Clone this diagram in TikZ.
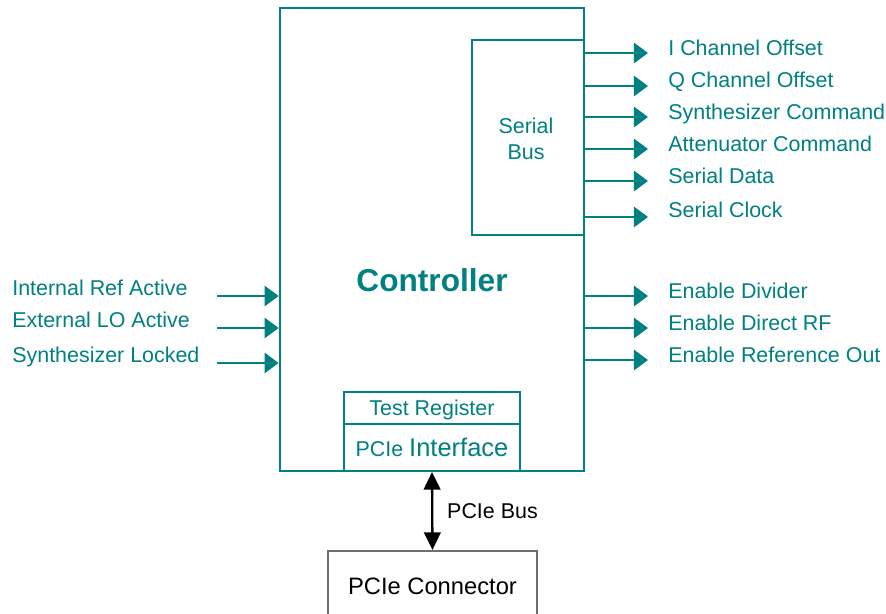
\documentclass[tikz,border=0pt]{standalone}
\usepackage{fontspec}
\setmainfont{Liberation Sans}
\usetikzlibrary{arrows.meta}
\definecolor{ctrlteal}{RGB}{0,128,128}
\definecolor{conngray}{RGB}{110,110,110}

\begin{document}
\begin{tikzpicture}[x=0.02cm,y=-0.02cm,
	blk/.style={draw=ctrlteal,line width=1.2pt,inner sep=0pt},
	sig/.style={draw=ctrlteal,line width=1.3pt,-{Triangle[length=8pt,width=11.5pt]}},
	lbl/.style={text=ctrlteal,font=\fontsize{12.2}{14}\selectfont,anchor=base west,inner sep=0pt}]
	\useasboundingbox (0,0) rectangle (886,613);
	\clip (0,0) rectangle (886,613);
	
	% blocks
	\node[blk,line width=1.6pt,minimum width=6.08cm,minimum height=9.26cm] (ctrl) at (432,239.5) {};
	\node[text=ctrlteal,font=\bfseries\fontsize{18}{21}\selectfont] (ctrltxt) at (432,280) {Controller};
	\node[blk,minimum width=2.24cm,minimum height=3.9cm] (sbus) at (528,137.5) {};
	\node[text=ctrlteal,align=center,font=\fontsize{12.2}{14.7}\selectfont] (sbustxt) at (526,139) {Serial\\Bus};
	\node[blk,minimum width=3.52cm,minimum height=.64cm,text=ctrlteal,text depth=0pt,font=\fontsize{12.2}{14}\selectfont] (treg) at (432,408) {Test Register};
	\node[blk,minimum width=3.52cm,minimum height=.94cm,text=ctrlteal,text depth=0pt] (pcie) at (432,447.5) {\fontsize{12.2}{14}\selectfont PCIe \fontsize{14.5}{17}\selectfont Interface};
	\node[draw=conngray,line width=1.3pt,inner sep=0pt,minimum width=4.18cm,minimum height=1.4cm,font=\fontsize{13.5}{16}\selectfont] (conn) at (432.5,586) {PCIe Connector};
	
	% bus
	\draw[line width=1.3pt,{Triangle[length=10pt,width=9.5pt]}-{Triangle[length=10pt,width=9.5pt]}] (pcie.south) -- (conn.north);
	\node[anchor=west,font=\fontsize{12.2}{14}\selectfont] (bustxt) at (441,511) {PCIe Bus};
	
	% outputs from the serial bus
	\foreach \y/\b/\t [count=\i] in {53/55/I Channel Offset,86/87/Q Channel Offset,117/119/Synthesizer Command,149/151/Attenuator Command,181/183/Serial Data,217/217/Serial Clock}
	{
		\coordinate (so\i) at (648,\y);
		\draw[sig] (ctrl.east |- so\i) -- (so\i);
		\node[lbl] (sl\i) at (668,\b) {\t};
	}
	% enable outputs
	\foreach \y/\b/\t [count=\i] in {296/298/Enable Divider,328/330/Enable Direct RF,360/362/Enable Reference Out}
	{
		\coordinate (eo\i) at (648,\y);
		\draw[sig] (ctrl.east |- eo\i) -- (eo\i);
		\node[lbl] (el\i) at (668,\b) {\t};
	}
	% status inputs
	\foreach \y/\b/\t [count=\i] in {296/295/Internal Ref Active,328/327/External LO Active,363/362/Synthesizer Locked}
	{
		\coordinate (in\i) at (217,\y);
		\draw[sig] (in\i) -- (ctrl.west |- in\i);
		\node[lbl] (il\i) at (12,\b) {\t};
	}
\end{tikzpicture}
\end{document}
